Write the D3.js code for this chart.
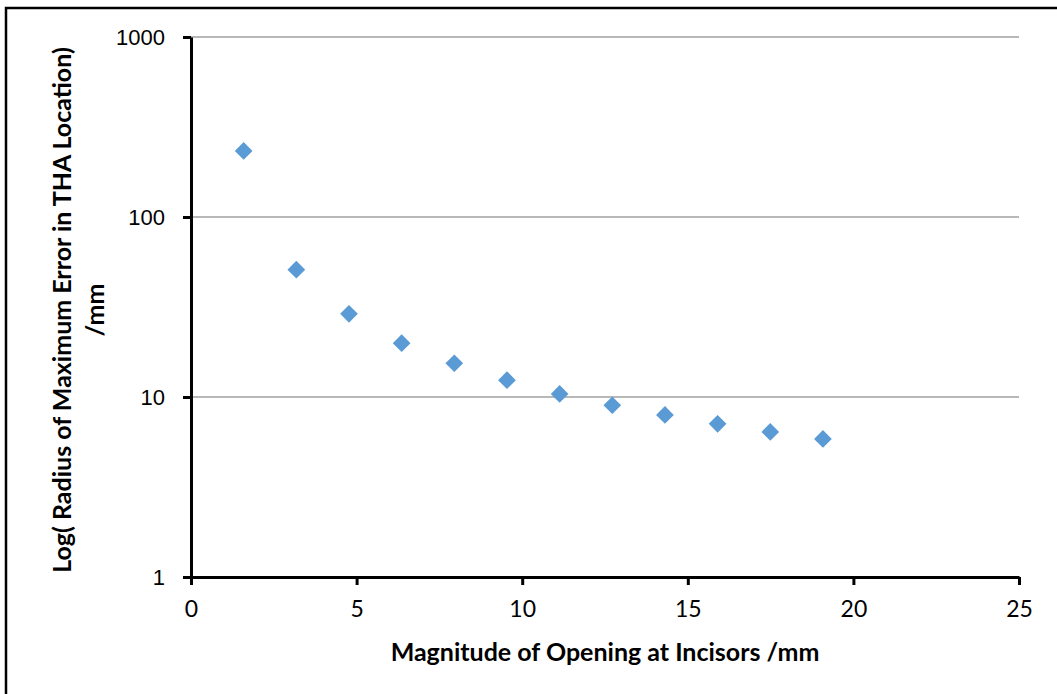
<!DOCTYPE html>
<html>
<head>
<meta charset="utf-8">
<script src="https://cdn.jsdelivr.net/npm/d3@7"></script>
<style>
	html, body { margin: 0; padding: 0; background: #fff; }
	svg { display: block; }
	text { font-family: Lato, "Open Sans", sans-serif; fill: #000; }
</style>
</head>
<body>
<div id="chart"></div>
<script>
	// data
	var openingMm = [1.59, 3.18, 4.77, 6.36, 7.95, 9.54, 11.13, 12.72, 14.31, 15.9, 17.49, 19.08];
	var errorRadius = [233, 51, 29, 19.9, 15.4, 12.4, 10.4, 9.0, 7.95, 7.1, 6.4, 5.85];
	var xTicks = [0, 5, 10, 15, 20, 25];
	var yTicks = [1, 10, 100, 1000];
	var xTitle = "Magnitude of Opening at Incisors /mm";
	var yTitle = ["Log( Radius of Maximum Error in THA Location)", "/mm"];

	var width = 1057, height = 694;
	var margin = { left: 191, right: 38, top: 37, bottom: 117 };
	var plotW = width - margin.left - margin.right;
	var plotH = height - margin.top - margin.bottom;

	var svg = d3.select("#chart").append("svg")
		.attr("width", width)
		.attr("height", height);

	// outer frame (only top and left are visible in the picture)
	svg.append("rect")
		.attr("x", 6).attr("y", 8)
		.attr("width", width + 20).attr("height", height + 20)
		.attr("fill", "none")
		.attr("stroke", "#000")
		.attr("stroke-width", 2.5);

	var x = d3.scaleLinear().domain([0, 25]).range([0, plotW]);
	var y = d3.scaleLog().domain([1, 1000]).range([plotH, 0]);

	var g = svg.append("g").attr("transform", `translate(${margin.left},${margin.top})`);

	// gridlines
	g.append("g")
		.selectAll("line")
		.data(yTicks.filter(d => d > 1))
		.join("line")
		.attr("x1", 0).attr("x2", plotW)
		.attr("y1", d => y(d)).attr("y2", d => y(d))
		.attr("stroke", "#a0a0a0")
		.attr("stroke-width", 1.3);

	// x axis
	var xAxis = g.append("g")
		.attr("transform", `translate(0,${plotH})`)
		.call(d3.axisBottom(x).tickValues(xTicks).tickSizeInner(8).tickSizeOuter(0).tickPadding(16));
	xAxis.select(".domain").attr("stroke-width", 3);
	xAxis.selectAll(".tick line").attr("stroke-width", 3);
	xAxis.selectAll(".tick text")
		.style("font-family", "Lato, sans-serif")
		.style("font-size", "23px");

	// y axis
	var yAxis = g.append("g")
		.call(d3.axisLeft(y).tickValues(yTicks).tickFormat(d3.format("d")).tickSizeInner(8).tickSizeOuter(0).tickPadding(18));
	yAxis.select(".domain").attr("stroke-width", 3);
	yAxis.selectAll(".tick line").attr("stroke-width", 3);
	yAxis.selectAll(".tick text")
		.style("font-family", "'Liberation Sans', Arial, sans-serif")
		.style("font-size", "22px");

	// points
	var diamond = d3.symbol().type(d3.symbolDiamond2).size(200);
	g.append("g")
		.selectAll("path")
		.data(openingMm.map((v, i) => ({ x: v, y: errorRadius[i] })))
		.join("path")
		.attr("d", diamond)
		.attr("transform", d => `translate(${x(d.x)},${y(d.y)})`)
		.attr("fill", "#5b9bd5");

	// axis titles
	svg.append("text")
		.attr("x", 605)
		.attr("y", 661)
		.attr("text-anchor", "middle")
		.style("font-weight", "bold")
		.style("font-size", "25px")
		.text(xTitle);

	var yt = svg.append("text")
		.attr("transform", `translate(0,310) rotate(-90)`)
		.attr("text-anchor", "middle")
		.style("font-weight", "bold")
		.style("font-size", "25px");
	yt.append("tspan").attr("x", 0).attr("y", 71).text(yTitle[0]);
	yt.append("tspan").attr("x", 0).attr("y", 104).text(yTitle[1]);
</script>
</body>
</html>
